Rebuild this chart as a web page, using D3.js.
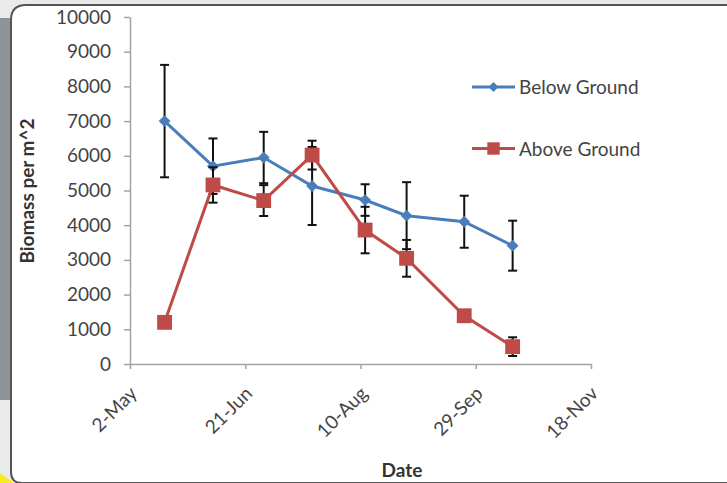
<!DOCTYPE html>
<meta charset="utf-8">
<style>
body { margin: 0; background: #e9eaea; }
text { font-family: Lato, "Open Sans", sans-serif; }
.axis path, .axis line { stroke: #a3a3a3; stroke-width: 1.5px; }
.axis text { fill: #444; font-size: 19px; }
.title { font-weight: bold; font-size: 19px; fill: #333; }
.legend text { font-size: 19px; fill: #444; }
</style>
<svg width="727" height="483"></svg>
<script src="https://d3js.org/d3.v7.min.js"></script>
<script>
    // sampling dates and values
    var dates = ["2010-05-17", "2010-06-07", "2010-06-29", "2010-07-20",
                 "2010-08-12", "2010-08-30", "2010-09-24", "2010-10-15"];
    var below = [7000, 5700, 5950, 5130, 4725, 4275, 4100, 3410];
    var belowErr = [1620, 800, 740, 1125, 455, 965, 750, 720];
    var above = [1200, 5160, 4710, 6020, 3860, 3045, 1390, 500];
    var aboveErr = [150, 510, 445, 415, 670, 530, 150, 270];
    var xTicks = ["2010-05-02", "2010-06-21", "2010-08-10", "2010-09-29", "2010-11-18"];
    var yTicks = [0, 1000, 2000, 3000, 4000, 5000, 6000, 7000, 8000, 9000, 10000];

    var parse = d3.timeParse("%Y-%m-%d");
    var fmt = d3.timeFormat("%-d-%b");

    var svg = d3.select("svg");

    // frame round the chart
    svg.append("rect").attr("x", 0).attr("y", 18).attr("width", 11).attr("height", 382)
        .attr("fill", "#8d9397");
    svg.append("path")
        .attr("d", "M0,473 L14,483 L0,483 Z").attr("fill", "#f5ec1a");
    svg.append("path")
        .attr("d", "M740,5 L26,5 Q11,5 11,20 L11,472 Q11,483 22,483 L740,483 Z")
        .attr("fill", "#fff").attr("stroke", "#555").attr("stroke-width", 2);

    var x = d3.scaleTime()
        .domain([parse(xTicks[0]), parse(xTicks[xTicks.length - 1])])
        .range([130, 591]);
    var y = d3.scaleLinear().domain([0, 10000]).range([364, 17]);

    svg.append("g").attr("class", "axis")
        .attr("transform", "translate(130,0)")
        .call(d3.axisLeft(y).tickValues(yTicks).tickFormat(d3.format("d"))
            .tickSize(6).tickPadding(13).tickSizeOuter(0));

    var xAxis = svg.append("g").attr("class", "axis")
        .attr("transform", "translate(0,364)")
        .call(d3.axisBottom(x).tickValues(xTicks.map(parse)).tickFormat(fmt)
            .tickSize(5).tickSizeOuter(0));
    xAxis.selectAll("text")
        .attr("text-anchor", "end")
        .attr("dy", 0)
        .attr("transform", "translate(2,25) rotate(-45)");

    svg.append("text").attr("class", "title")
        .attr("text-anchor", "middle")
        .attr("transform", "translate(34,191) rotate(-90)")
        .text("Biomass per m^2");
    svg.append("text").attr("class", "title")
        .attr("text-anchor", "middle")
        .attr("x", 402).attr("y", 477)
        .text("Date");

    // Excel-style diamond: as wide as it is tall
    var diamond = {
        draw: function(ctx, size) {
            var r = Math.sqrt(size / 2);
            ctx.moveTo(0, -r); ctx.lineTo(r, 0); ctx.lineTo(0, r); ctx.lineTo(-r, 0); ctx.closePath();
        }
    };

    var series = [
        {name: "Below Ground", values: below, err: belowErr, color: "#4a7ebb", shape: diamond, size: 70},
        {name: "Above Ground", values: above, err: aboveErr, color: "#be4b48", shape: d3.symbolSquare, size: 220}
    ];

    var line = d3.line()
        .x(function(d) { return x(d.date); })
        .y(function(d) { return y(d.value); });

    series.forEach(function(s) {
        var pts = dates.map(function(d, i) {
            return {date: parse(d), value: s.values[i], err: s.err[i]};
        });
        var g = svg.append("g");

        g.append("path").datum(pts)
            .attr("d", line)
            .attr("fill", "none")
            .attr("stroke", s.color)
            .attr("stroke-width", 3);

        var eb = g.selectAll(".err").data(pts).enter().append("g")
            .attr("stroke", "#111").attr("stroke-width", 2);
        eb.append("line")
            .attr("x1", function(d) { return x(d.date); })
            .attr("x2", function(d) { return x(d.date); })
            .attr("y1", function(d) { return y(d.value - d.err); })
            .attr("y2", function(d) { return y(d.value + d.err); });
        [-1, 1].forEach(function(sign) {
            eb.append("line")
                .attr("x1", function(d) { return x(d.date) - 4.5; })
                .attr("x2", function(d) { return x(d.date) + 4.5; })
                .attr("y1", function(d) { return y(d.value + sign * d.err); })
                .attr("y2", function(d) { return y(d.value + sign * d.err); });
        });

        g.selectAll(".mk").data(pts).enter().append("path")
            .attr("d", d3.symbol().type(s.shape).size(s.size))
            .attr("transform", function(d) { return "translate(" + x(d.date) + "," + y(d.value) + ")"; })
            .attr("fill", s.color);
    });

    // legend
    var legend = svg.append("g").attr("class", "legend");
    series.forEach(function(s, i) {
        var ly = 87 + i * 61.5;
        legend.append("line")
            .attr("x1", 472).attr("x2", 515).attr("y1", ly).attr("y2", ly)
            .attr("stroke", s.color).attr("stroke-width", 3);
        legend.append("path")
            .attr("d", d3.symbol().type(s.shape).size(s.size * 0.7))
            .attr("transform", "translate(493.5," + ly + ")")
            .attr("fill", s.color);
        legend.append("text")
            .attr("x", 519).attr("y", ly + 7)
            .text(s.name);
    });
</script>
